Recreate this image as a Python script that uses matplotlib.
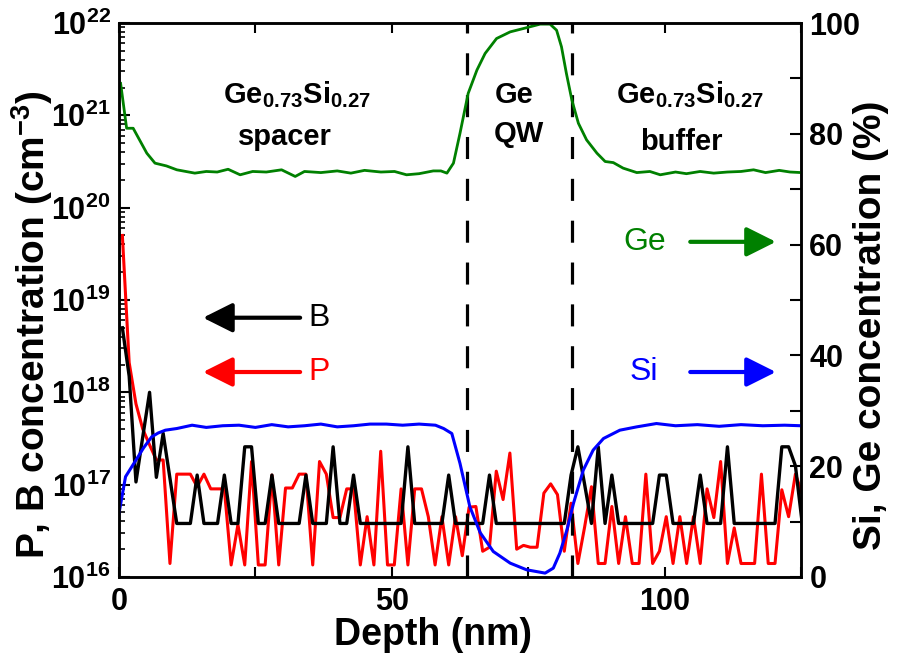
import numpy as np
import matplotlib
matplotlib.use('Agg')
import matplotlib.pyplot as plt
from matplotlib.ticker import FixedLocator, MultipleLocator, FuncFormatter, LogLocator, NullFormatter

plt.rcParams['font.family'] = ['Liberation Sans', 'DejaVu Sans']
plt.rcParams['font.weight'] = 'bold'
plt.rcParams['axes.labelweight'] = 'bold'
plt.rcParams['mathtext.fontset'] = 'custom'
plt.rcParams['mathtext.rm'] = 'Liberation Sans:bold'
plt.rcParams['mathtext.bf'] = 'Liberation Sans:bold'
plt.rcParams['mathtext.it'] = 'Liberation Sans:bold:italic'

# SIMS depth grid for the dopants (nm)
depth = np.arange(101) * 1.246 + 0.62

# boron (cm^-3)
b_conc = [5e18, 1.5e18, 1.07e17, 3.3e17, 1e18, 1.2e17, 3.6e17, 1.17e17, 3.8e16, 3.8e16,
          3.8e16, 1.27e17, 3.8e16, 3.8e16, 3.8e16, 1.27e17, 3.8e16, 3.8e16, 2.57e17, 2.57e17,
          3.8e16, 3.8e16, 1.27e17, 3.8e16, 3.8e16, 3.8e16, 3.8e16, 1.27e17, 3.8e16, 3.8e16,
          3.8e16, 2.57e17, 3.8e16, 3.8e16, 1.27e17, 3.8e16, 3.8e16, 3.8e16, 3.8e16, 3.8e16,
          3.8e16, 3.8e16, 2.57e17, 3.8e16, 3.8e16, 3.8e16, 3.8e16, 3.8e16, 1.27e17, 3.8e16,
          3.8e16, 3.8e16, 3.8e16, 3.8e16, 1.27e17, 3.8e16, 3.8e16, 3.8e16, 3.8e16, 3.8e16,
          3.8e16, 3.8e16, 3.8e16, 3.8e16, 3.8e16, 3.8e16, 1.27e17, 2.57e17, 1e17, 3.8e16,
          2.57e17, 3.8e16, 1.27e17, 3.8e16, 3.8e16, 3.8e16, 3.8e16, 3.8e16, 3.8e16, 1.27e17,
          1.27e17, 3.8e16, 3.8e16, 3.8e16, 3.8e16, 1.27e17, 3.8e16, 3.8e16, 3.8e16, 2.57e17,
          3.8e16, 3.8e16, 3.8e16, 3.8e16, 3.8e16, 3.8e16, 3.8e16, 2.57e17, 2.57e17, 1.6e17,
          3.8e16]

# phosphorus (cm^-3)
p_conc = [5e19, 2.1e18, 7.5e17, 4e17, 2.7e17, 1.85e17, 1.85e17, 1.4e16, 1.3e17, 1.3e17,
          1.3e17, 9.5e16, 1.3e17, 9e16, 9e16, 9e16, 1.35e16, 3.7e16, 1.35e16, 1.78e17,
          1.35e16, 1.35e16, 1.27e17, 1.35e16, 9.2e16, 9.2e16, 1.3e17, 1.3e17, 1.35e16, 1.78e17,
          1.3e17, 4.4e16, 4.4e16, 9e16, 9e16, 1.35e16, 4.5e16, 1.35e16, 2.3e17, 1.35e16,
          1.35e16, 9e16, 1.35e16, 9e16, 9e16, 4.5e16, 1.35e16, 4.5e16, 1.35e16, 4.5e16,
          1.7e16, 5.7e16, 5.8e16, 1.9e16, 2.1e16, 1.4e17, 6.9e16, 2.2e17, 2e16, 2.2e16,
          2.1e16, 2.1e16, 8.1e16, 1.02e17, 7.8e16, 1.9e16, 6.3e16, 1.4e16, 3.5e16, 9.5e16,
          1.4e16, 1.4e16, 5.8e16, 1.4e16, 4.5e16, 1.4e16, 1.4e16, 1.3e17, 1.4e16, 1.9e16,
          4.5e16, 1.4e16, 4.5e16, 1.4e16, 4.5e16, 1.4e16, 9e16, 4.4e16, 1.78e17, 1.4e16,
          3.4e16, 1.4e16, 1.4e16, 1.4e16, 1.3e17, 1.4e16, 1.4e16, 8.8e16, 4.5e16, 1.3e17,
          8e16]

# Si (%)
si_depth = [0, 1.2, 3.3, 4.5, 6.0, 7.2, 8.5, 10.6, 13.4, 16, 19, 22, 25, 28, 31, 34, 37,
            40, 43, 46, 49, 52, 55, 58, 59.5, 61, 62.5, 64.3, 66.2, 68.6, 71.7, 74.7, 78.1,
            79.6, 80.8, 82.1, 83.3, 85.1, 86.9, 88.8, 91.8, 94.9, 98.5, 102, 106, 110, 114,
            118, 122, 125]
si_conc = [11.5, 18.1, 21.4, 23.3, 25.3, 26.0, 26.5, 26.8, 27.4, 27.0, 27.3, 27.4, 27.0,
           27.5, 27.1, 27.3, 27.6, 27.1, 27.3, 27.6, 27.6, 27.4, 27.6, 27.4, 26.8, 25.9,
           20.5, 12.7, 8.0, 4.6, 2.5, 1.3, 0.7, 1.6, 4.3, 8.5, 13.3, 19.3, 22.9, 25.0,
           26.5, 27.1, 27.7, 27.3, 27.5, 27.2, 27.5, 27.3, 27.4, 27.3]

# Ge (%)
ge_depth = [0.3, 1.4, 2.6, 5.1, 6.6, 8.7, 10.6, 13.9, 16, 18, 20, 22.2, 24.5, 27, 29.8,
            32.3, 34, 37, 40, 42.5, 45, 48, 50.5, 52.7, 55, 57.6, 59, 60.1, 61.3, 62.5, 64,
            65.6, 67.1, 69.2, 71.7, 74.1, 77.2, 79, 80.2, 81.1, 82, 83, 84.2, 85.7, 87.6,
            89.1, 90.6, 92.4, 94.9, 97.3, 99.2, 102, 104, 106.5, 109, 111.5, 114, 116.3,
            118.5, 121, 123, 125]
ge_conc = [89.1, 81.0, 81.0, 76.5, 74.7, 74.2, 73.5, 72.9, 73.2, 73.1, 73.6, 72.6, 73.2,
           73.1, 73.5, 72.3, 73.2, 73.0, 73.3, 72.9, 73.4, 73.1, 73.2, 72.6, 72.8, 73.3,
           73.3, 72.9, 74.7, 80.1, 87.3, 91.5, 94.5, 97.2, 98.4, 99.0, 99.8, 99.8, 98.7,
           95.7, 90.9, 86.1, 81.9, 78.9, 76.5, 75.0, 74.8, 73.8, 73.0, 73.2, 72.6, 73.1,
           72.8, 73.2, 72.9, 73.1, 73.2, 73.5, 73.0, 73.4, 73.1, 73.0]

# quantum well interfaces (nm)
interfaces = [63.8, 83.0]

fig = plt.figure(figsize=(8.98, 6.61), dpi=100)
ax = fig.add_axes([0.1325, 0.1271, 0.7595, 0.8381])

ax.plot(depth, p_conc, color='#ff0000', lw=2.2)
ax.plot(depth, b_conc, color='black', lw=2.4)
for xi in interfaces:
    ax.axvline(xi, color='black', lw=2.3, dashes=(6.9, 6.2))

ax.set_yscale('log')
ax.set_ylim(1e16, 1e22)
ax.set_xlim(0, 125)
ax.xaxis.set_major_locator(FixedLocator([0, 50, 100]))
ax.xaxis.set_minor_locator(MultipleLocator(25))
ax.yaxis.set_major_locator(LogLocator(base=10, numticks=10))
ax.yaxis.set_minor_locator(LogLocator(base=10, subs=np.arange(2, 10), numticks=10))
ax.yaxis.set_minor_formatter(NullFormatter())
ax.yaxis.set_major_formatter(FuncFormatter(lambda v, p: r'$\mathbf{10^{%d}}$' % round(np.log10(v))))
ax.tick_params(axis='x', which='both', direction='in', top=True, length=7, width=1.5,
               labelsize=22, pad=7)
ax.tick_params(axis='y', which='major', direction='in', length=8, width=1.5, labelsize=22, pad=6)
ax.tick_params(axis='y', which='minor', direction='in', length=4, width=1.2)
for s in ax.spines.values():
    s.set_linewidth(1.8)

ax.set_xlabel('Depth (nm)', fontsize=27, fontweight='bold', va='center')
ax.xaxis.set_label_coords(0.46, -0.104)
ax.set_ylabel(r'P, B concentration (cm$^{\mathbf{-3}}$)', fontsize=28, fontweight='bold', va='center')
ax.yaxis.set_label_coords(-0.128, 0.455)

ax2 = ax.twinx()
ax2.plot(si_depth, si_conc, color='#0000ff', lw=2.2)
ax2.plot(ge_depth, ge_conc, color='#008000', lw=2.0)
ax2.set_ylim(0, 100)
ax2.yaxis.set_major_locator(MultipleLocator(20))
ax2.yaxis.set_minor_locator(MultipleLocator(10))
ax2.tick_params(axis='y', which='major', direction='in', length=8, width=1.5, labelsize=22, pad=6)
ax2.tick_params(axis='y', which='minor', direction='in', length=8, width=1.5)
for s in ax2.spines.values():
    s.set_linewidth(1.8)
ax2.set_ylabel('Si, Ge concentration (%)', fontsize=28, fontweight='bold', va='center')
ax2.yaxis.set_label_coords(1.103, 0.455)

# layer annotations
ax2.text(32.7, 85.6, r'$\mathbf{Ge_{0.73}Si_{0.27}}$', ha='center', va='baseline', fontsize=21)
ax2.text(30.5, 77.9, 'spacer', ha='center', va='baseline', fontsize=21)
ax2.text(72.5, 85.6, 'Ge', ha='center', va='baseline', fontsize=21)
ax2.text(73.2, 78.5, 'QW', ha='center', va='baseline', fontsize=21)
ax2.text(104.6, 85.6, r'$\mathbf{Ge_{0.73}Si_{0.27}}$', ha='center', va='baseline', fontsize=21)
ax2.text(103.0, 77.1, 'buffer', ha='center', va='baseline', fontsize=21)

# arrow labels
arrow = dict(arrowstyle='-|>,head_length=0.9,head_width=0.45', lw=3, shrinkA=0, shrinkB=0,
             mutation_scale=20)
ax2.annotate('', xy=(15.4, 46.8), xytext=(33.2, 46.8), arrowprops=dict(arrow, color='black'))
ax2.annotate('', xy=(15.4, 37.0), xytext=(33.2, 37.0), arrowprops=dict(arrow, color='#ff0000'))
ax2.annotate('', xy=(120.4, 60.5), xytext=(104.7, 60.5), arrowprops=dict(arrow, color='#008000'))
ax2.annotate('', xy=(120.4, 37.0), xytext=(104.7, 37.0), arrowprops=dict(arrow, color='#0000ff'))
ax2.text(34.8, 46.8, 'B', ha='left', va='center', fontsize=23, fontweight='normal', color='black')
ax2.text(34.8, 37.0, 'P', ha='left', va='center', fontsize=23, fontweight='normal', color='#ff0000')
ax2.text(100.3, 60.5, 'Ge', ha='right', va='center', fontsize=23, fontweight='normal', color='#008000')
ax2.text(98.8, 37.0, 'Si', ha='right', va='center', fontsize=23, fontweight='normal', color='#0000ff')

fig.savefig('out.png', dpi=100)
